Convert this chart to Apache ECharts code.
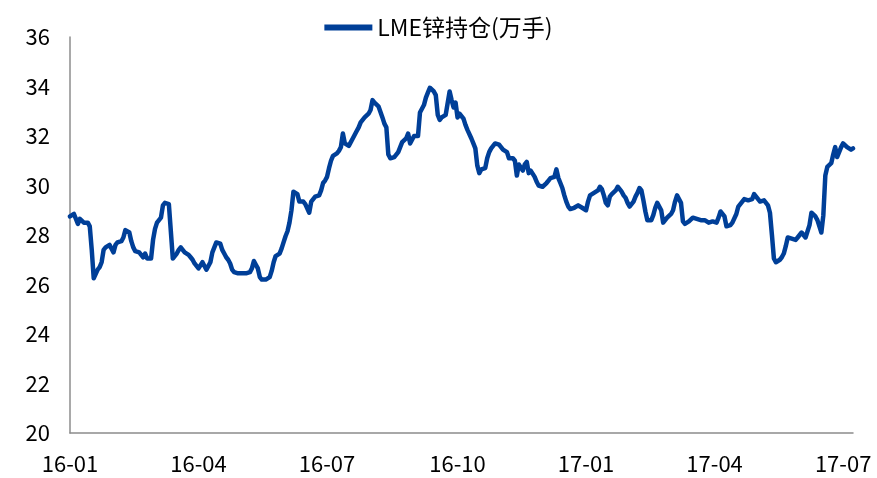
<!DOCTYPE html>
<html>
<head>
<meta charset="utf-8">
<title>LME锌持仓</title>
<script src="https://cdn.jsdelivr.net/npm/echarts@6/dist/echarts.min.js"></script>
<style>
  html, body { margin: 0; padding: 0; background: #fff; }
  #chart { width: 877px; height: 478px; }
</style>
</head>
<body>
<div id="chart"></div>
<script>
// LME zinc open interest (10k lots), one reading per trading day from 2016-01-01
const seriesName = 'LME锌持仓(万手)';
const startDate = '2016-01-01';
const openInterest = [
  28.75, 28.7, 28.85, 28.8, 28.45, 28.65, 28.6, 28.5, 28.5, 28.5,
  28.35, 27.4, 26.25, 26.2, 26.6, 26.7, 26.9, 27.4, 27.5, 27.55,
  27.6, 27.65, 27.3, 27.6, 27.7, 27.7, 27.75, 27.9, 28.2, 28.25,
  28.1, 27.75, 27.5, 27.35, 27.3, 27.3, 27.2, 27.1, 27.25, 27.05,
  27.0, 27.05, 27.8, 28.25, 28.5, 28.6, 28.7, 29.2, 29.3, 29.3,
  29.25, 29.2, 27.05, 27.15, 27.25, 27.4, 27.5, 27.45, 27.3, 27.25,
  27.2, 27.1, 27.0, 26.85, 26.75, 26.65, 26.7, 26.9, 26.75, 26.6,
  26.55, 26.9, 27.3, 27.5, 27.7, 27.75, 27.65, 27.4, 27.25, 27.1,
  27.0, 26.85, 26.6, 26.5, 26.45, 26.45, 26.5, 26.45, 26.5, 26.45,
  26.45, 26.5, 26.65, 26.95, 26.8, 26.65, 26.3, 26.2, 26.15, 26.2,
  26.2, 26.3, 26.55, 26.9, 27.15, 27.1, 27.25, 27.45, 27.7, 27.95,
  28.15, 28.5, 29.0, 29.75, 29.75, 29.65, 29.35, 29.35, 29.35, 29.25,
  29.2, 28.9, 29.35, 29.45, 29.55, 29.6, 29.6, 29.8, 30.1, 30.2,
  30.35, 30.7, 31.0, 31.2, 31.25, 31.3, 31.4, 31.55, 32.1, 31.7,
  31.65, 31.6, 31.65, 31.9, 32.05, 32.2, 32.35, 32.55, 32.65, 32.75,
  32.75, 32.9, 33.05, 33.45, 33.35, 33.3, 33.2, 33.15, 32.75, 32.5,
  32.35, 31.25, 31.1, 31.1, 31.15, 31.2, 31.35, 31.55, 31.75, 31.8,
  31.9, 32.1, 31.7, 31.85, 32.0, 32.0, 32.0, 32.95, 33.1, 33.25,
  33.55, 33.75, 33.95, 33.9, 33.8, 33.65, 32.85, 32.65, 32.75, 32.8,
  32.85, 32.8, 33.8, 33.45, 33.15, 33.35, 32.75, 32.9, 32.85, 32.7,
  32.45, 32.25, 32.2, 31.9, 31.7, 31.5, 30.8, 30.5, 30.65, 30.7,
  30.7, 31.1, 31.35, 31.5, 31.6, 31.7, 31.75, 31.65, 31.55, 31.45,
  31.4, 31.35, 31.1, 31.15, 31.1, 31.0, 30.4, 30.85, 30.9, 30.6,
  30.85, 30.95, 30.5, 30.6, 30.55, 30.35, 30.15, 30.0, 29.95, 29.95,
  30.0, 30.1, 30.2, 30.3, 30.25, 30.35, 30.65, 30.3, 30.1, 29.9,
  29.6, 29.35, 29.15, 29.05, 29.1, 29.1, 29.15, 29.2, 29.25, 29.1,
  29.05, 29.0, 29.35, 29.6, 29.65, 29.7, 29.75, 29.8, 29.95, 29.85,
  29.6, 29.3, 29.2, 29.55, 29.65, 29.7, 29.8, 29.95, 29.85, 29.75,
  29.6, 29.5, 29.3, 29.15, 29.2, 29.35, 29.55, 29.7, 29.9, 29.8,
  29.4, 28.95, 28.6, 28.55, 28.6, 28.8, 29.1, 29.3, 29.35, 29.0,
  28.5, 28.6, 28.7, 28.75, 28.85, 29.0, 29.35, 29.6, 29.55, 29.3,
  28.55, 28.45, 28.5, 28.55, 28.55, 28.7, 28.65, 28.65, 28.7, 28.6,
  28.55, 28.6, 28.55, 28.5, 28.5, 28.55, 28.55, 28.5, 28.7, 28.95,
  29.0, 28.75, 28.35, 28.3, 28.4, 28.5, 28.55, 28.85, 29.15, 29.2,
  29.35, 29.45, 29.45, 29.4, 29.35, 29.45, 29.65, 29.65, 29.45, 29.35,
  29.4, 29.4, 29.35, 29.2, 28.9, 28.0, 27.05, 26.9, 26.9, 27.0,
  27.1, 27.25, 27.55, 27.9, 27.9, 27.85, 27.8, 27.8, 27.9, 27.95,
  28.1, 28.0, 27.9, 27.9, 28.4, 28.9, 28.85, 28.75, 28.6, 28.35,
  28.1, 28.8, 30.4, 30.75, 30.8, 30.9, 31.25, 31.55, 31.15, 31.15,
  31.55, 31.7, 31.65, 31.55, 31.5, 31.45, 31.5
];
// Months whose first trading day carries a tick label
const labelMonths = [1, 4, 7, 10];
const yTicks = { min: 20, max: 36, step: 2 };

// Trading-day calendar (weekdays) for the series
function tradingDays(start, count) {
  const out = [];
  const d = new Date(start + 'T00:00:00Z');
  while (out.length < count) {
    const wd = d.getUTCDay();
    if (wd !== 0 && wd !== 6) {
      const y = d.getUTCFullYear();
      const m = String(d.getUTCMonth() + 1).padStart(2, '0');
      const day = String(d.getUTCDate()).padStart(2, '0');
      out.push(y + '-' + m + '-' + day);
    }
    d.setUTCDate(d.getUTCDate() + 1);
  }
  return out;
}
const dates = tradingDays(startDate, openInterest.length);

function isQuarterStart(index) {
  const m = +dates[index].slice(5, 7);
  if (labelMonths.indexOf(m) < 0) return false;
  return index === 0 || dates[index - 1].slice(5, 7) !== dates[index].slice(5, 7);
}

const FONT = "'Noto Sans CJK SC', 'Noto Sans', sans-serif";
const LINE_COLOR = '#003f98';
const AXIS_COLOR = '#8c8c8c';

const chart = echarts.init(document.getElementById('chart'), null, { renderer: 'canvas' });
chart.setOption({
  animation: false,
  backgroundColor: '#ffffff',
  textStyle: { fontFamily: FONT },
  legend: {
    top: 11,
    left: 'center',
    icon: 'rect',
    itemWidth: 48,
    itemHeight: 6,
    itemGap: 10,
    textStyle: { fontFamily: FONT, fontSize: 23, color: '#000' },
    data: [seriesName]
  },
  grid: { left: 70, right: 24, top: 37, bottom: 45, containLabel: false },
  xAxis: {
    type: 'category',
    data: dates,
    boundaryGap: false,
    axisLine: { lineStyle: { color: AXIS_COLOR, width: 1.5 } },
    axisTick: { show: false },
    splitLine: { show: false },
    axisLabel: {
      interval: (index) => isQuarterStart(index),
      formatter: (v) => v.slice(2, 4) + '-' + v.slice(5, 7),
      color: '#000',
      fontFamily: FONT,
      fontSize: 22,
      margin: 20
    }
  },
  yAxis: {
    type: 'value',
    min: yTicks.min,
    max: yTicks.max,
    interval: yTicks.step,
    axisLine: { show: true, lineStyle: { color: AXIS_COLOR, width: 1.5 } },
    axisTick: { show: false },
    splitLine: { show: false },
    axisLabel: { color: '#000', fontFamily: FONT, fontSize: 22, margin: 20 }
  },
  series: [{
    name: seriesName,
    type: 'line',
    data: openInterest,
    showSymbol: false,
    symbol: 'none',
    itemStyle: { color: LINE_COLOR },
    lineStyle: { color: LINE_COLOR, width: 4.5, cap: 'round', join: 'round' }
  }]
});
</script>
</body>
</html>
